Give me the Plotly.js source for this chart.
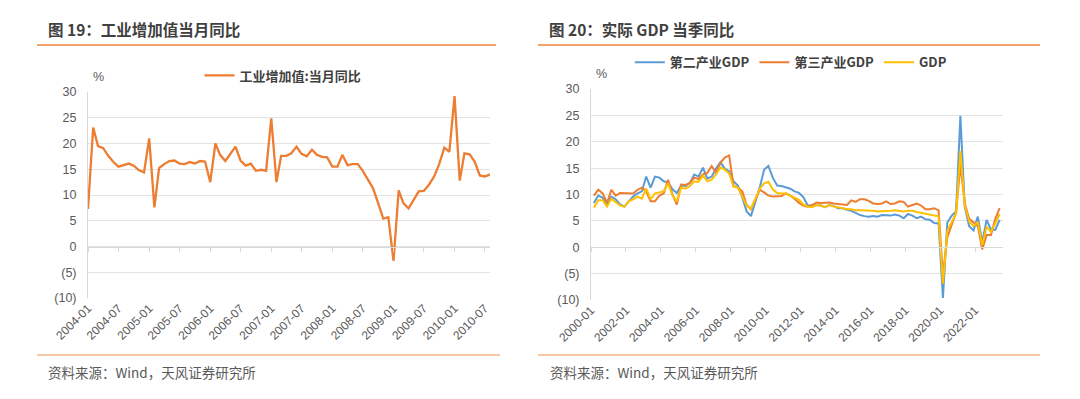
<!DOCTYPE html>
<html>
<head>
<meta charset="utf-8">
<script src="https://cdn.plot.ly/plotly-3.0.1.min.js"></script>
<style>
  html, body { margin:0; padding:0; background:#fff; }
  body { width:1080px; height:399px; position:relative; overflow:hidden;
         font-family:"Liberation Sans","Noto Sans CJK SC",sans-serif; }
  .ttl { position:absolute; font-size:15.5px; font-weight:bold; color:#404040; line-height:20px; white-space:nowrap;
         font-family:"Noto Sans CJK SC","Liberation Sans",sans-serif; }
  .src { position:absolute; font-size:13.5px; color:#595959; line-height:18px; white-space:nowrap;
         font-family:"Noto Sans CJK SC","Liberation Sans",sans-serif; }
  .hl { position:absolute; height:1.5px; background:#F2A36E; }
  .fl { position:absolute; height:2px; background:#F8C9A8; }
  .chart { position:absolute; top:0; width:540px; height:399px; }
</style>
</head>
<body>
<div class="ttl" style="left:48px;top:19px;">图 19：工业增加值当月同比</div>
<div class="ttl" style="left:549px;top:19px;">图 20：实际 GDP 当季同比</div>
<div class="hl" style="left:37px;top:44px;width:459px;"></div>
<div class="hl" style="left:538px;top:44px;width:502px;"></div>
<div id="c1" class="chart" style="left:0;"></div>
<div id="c2" class="chart" style="left:540px;"></div>
<div class="fl" style="left:37px;top:354px;width:463px;"></div>
<div class="fl" style="left:538px;top:354px;width:502px;"></div>
<div class="src" style="left:48px;top:363px;">资料来源：Wind，天风证券研究所</div>
<div class="src" style="left:550px;top:363px;">资料来源：Wind，天风证券研究所</div>
<script>
// ---------- Data: Figure 19 (monthly, 2004-01 .. 2010-08) ----------
const ivaStart = [2004, 1];
const ivaName = '工业增加值:当月同比';
const ivaValues = [
  7.3, 23.1, 19.5, 19.1, 17.6, 16.4, 15.5, 15.8, 16.1, 15.7, 14.8, 14.4,
  21.0, 7.6, 15.2, 16.0, 16.6, 16.7, 16.1, 16.0, 16.4, 16.1, 16.6, 16.5,
  12.5, 20.0, 17.8, 16.6, 18.0, 19.4, 16.7, 15.7, 16.1, 14.7, 14.9, 14.7,
  24.9, 12.5, 17.6, 17.6, 18.1, 19.4, 18.0, 17.5, 18.8, 17.8, 17.4, 17.3,
  15.5, 15.5, 17.8, 15.8, 16.0, 16.0, 14.7, 13.1, 11.3, 8.4, 5.4, 5.7,
  -2.8, 10.9, 8.4, 7.4, 8.9, 10.7, 10.8, 12.0, 13.6, 16.0, 19.2, 18.4,
  29.2, 12.8, 18.1, 17.9, 16.5, 13.8, 13.6, 14.0
];

// ---------- Data: Figure 20 (quarterly, 2000Q1 .. 2023Q2) ----------
const gdpStartYear = 2000;
const seriesNames = ['第二产业GDP', '第三产业GDP', 'GDP'];
const secondary = [
  8.4, 9.8, 9.4, 8.1, 9.6, 9.1, 8.1, 7.7, 8.7, 9.6, 10.2, 10.6,
  13.4, 11.3, 13.4, 13.2, 12.5, 12.3, 11.0, 10.3, 11.7, 11.6, 12.2, 13.8,
  13.4, 15.1, 13.0, 13.4, 14.9, 16.1, 14.9, 14.4, 12.5, 11.7, 9.4, 6.8,
  5.9, 8.7, 11.3, 14.7, 15.4, 13.2, 11.7, 11.6, 11.4, 11.1, 10.6, 10.3,
  9.5, 7.9, 7.9, 8.0, 7.9, 7.6, 8.0, 7.8, 7.4, 7.4, 7.1, 6.9,
  6.5, 6.1, 5.9, 5.8, 5.9, 5.8, 6.1, 6.0, 6.0, 6.2, 6.0, 5.5,
  6.3, 6.0, 5.5, 5.8, 5.3, 5.2, 4.6, 4.5, -9.6, 4.7, 6.0, 6.8,
  24.9, 7.6, 4.0, 3.2, 5.8, 0.9, 5.2, 3.4, 3.3, 5.2
];
const tertiary = [
  9.8, 10.9, 10.2, 8.4, 10.9, 9.8, 10.3, 10.3, 10.2, 10.2, 10.9, 11.3,
  10.6, 8.7, 8.7, 9.8, 10.2, 12.8, 10.0, 8.1, 11.9, 11.8, 12.2, 13.2,
  12.9, 13.8, 14.1, 15.4, 14.1, 16.0, 17.0, 17.4, 11.6, 11.3, 10.6, 8.0,
  7.2, 8.9, 10.9, 10.4, 9.8, 9.6, 9.6, 9.7, 10.2, 9.8, 9.2, 8.4,
  7.9, 7.7, 8.0, 8.5, 8.4, 8.4, 8.5, 8.3, 8.2, 8.2, 8.0, 8.9,
  8.6, 9.1, 9.1, 8.8, 8.3, 8.2, 8.3, 8.7, 8.2, 8.3, 8.7, 8.6,
  7.7, 8.0, 8.3, 7.9, 7.2, 7.2, 7.4, 7.0, -5.2, 1.9, 4.3, 6.6,
  15.6, 8.3, 5.4, 4.6, 4.0, -0.4, 2.3, 2.3, 5.4, 7.4
];
const gdp = [
  7.5, 8.9, 8.9, 7.7, 9.2, 8.6, 7.9, 7.7, 8.7, 9.1, 9.6, 9.2,
  11.1, 9.1, 10.2, 10.4, 10.6, 12.1, 9.8, 8.7, 11.3, 11.1, 11.6, 12.5,
  12.4, 13.6, 12.5, 12.8, 13.8, 15.1, 14.7, 14.0, 11.5, 11.3, 9.6, 7.9,
  7.3, 9.1, 11.1, 12.1, 12.4, 11.0, 10.3, 10.2, 10.2, 9.8, 9.4, 9.0,
  8.1, 7.7, 7.6, 8.0, 7.9, 7.6, 8.0, 7.7, 7.6, 7.4, 7.2, 7.2,
  7.0, 7.0, 7.0, 6.9, 6.9, 6.8, 6.8, 6.9, 6.9, 7.0, 6.9, 6.8,
  6.9, 6.9, 6.7, 6.5, 6.3, 6.2, 6.0, 5.9, -6.9, 3.1, 4.8, 6.4,
  18.3, 7.9, 4.9, 4.0, 4.8, 0.4, 3.9, 2.9, 4.5, 6.3
];

const yTickVals = [-10, -5, 0, 5, 10, 15, 20, 25, 30];
const yTickText = ['(10)', '(5)', '0', '5', '10', '15', '20', '25', '30'];

// ---------- dates ----------
function pad(n){ return (n < 10 ? '0' : '') + n; }
const ivaDates = ivaValues.map((_, i) => {
  const m = ivaStart[1] - 1 + i;
  return (ivaStart[0] + Math.floor(m / 12)) + '-' + pad(m % 12 + 1) + '-01';
});
const qDates = gdp.map((_, i) => {
  const y = gdpStartYear + Math.floor(i / 4);
  return y + '-' + pad((i % 4) * 3 + 3) + '-01';
});

const FONT = '"Liberation Sans","Noto Sans CJK SC",Arial,sans-serif';
const LEGFONT = '"Noto Sans CJK SC","Liberation Sans",sans-serif';
const GRID = '#E3E3E3';
const AXIS = '#D9D9D9';
const TXT = '#595959';

function yAxis() {
  return {
    range: [-10, 30], tickvals: yTickVals, ticktext: yTickText,
    showgrid: true, gridcolor: GRID, gridwidth: 1,
    showline: true, linecolor: AXIS, linewidth: 1,
    zeroline: false, ticks: '', ticklabelstandoff: 8,
    tickfont: { family: FONT, size: 12.5, color: TXT }, fixedrange: true
  };
}
function xAxes(range, dtick) {
  const base = {
    type: 'date', range: range, tick0: range[0], dtick: dtick, tickformat: '%Y-%m'
  };
  return [
    Object.assign({}, base, {
      showgrid: false, zeroline: false, showline: false, ticks: '',
      tickangle: -45, tickfont: { family: FONT, size: 12, color: TXT }
    }),
    Object.assign({}, base, {
      overlaying: 'x', anchor: 'free', position: 0.25, side: 'bottom',
      showgrid: false, zeroline: false, showline: true, linecolor: AXIS, linewidth: 1,
      ticks: 'outside', ticklen: 4, tickcolor: AXIS, tickwidth: 1, showticklabels: false
    })
  ];
}

// ---------- Chart 1 ----------
(function(){
  const xs = xAxes(['2004-01-01', '2010-08-01'], 'M6');
  const data = [
    { x: ivaDates, y: ivaValues, type: 'scatter', mode: 'lines', name: ivaName,
      line: { color: '#ED7D31', width: 2.3 }, hoverinfo: 'skip' },
    { x: [], y: [], xaxis: 'x2', type: 'scatter', mode: 'lines', showlegend: false, hoverinfo: 'skip' }
  ];
  const layout = {
    width: 540, height: 399,
    margin: { l: 88, r: 50, t: 92, b: 101, pad: 0 },
    paper_bgcolor: 'rgba(0,0,0,0)', plot_bgcolor: 'rgba(0,0,0,0)',
    showlegend: true,
    legend: { orientation: 'h', x: 0.485, xanchor: 'center', y: 1.08, yanchor: 'middle',
              font: { family: LEGFONT, size: 13, color: '#404040', weight: 'bold' },
              itemwidth: 30, bgcolor: 'rgba(0,0,0,0)' },
    xaxis: xs[0], xaxis2: xs[1], yaxis: yAxis(),
    annotations: [{ text: '%', xref: 'paper', yref: 'paper', x: 0, y: 1, xanchor: 'left', yanchor: 'bottom',
                    xshift: 3, yshift: 6, showarrow: false, font: { family: FONT, size: 12.5, color: TXT } }]
  };
  Plotly.newPlot('c1', data, layout, { staticPlot: true, displayModeBar: false });
})();

// ---------- Chart 2 ----------
(function(){
  const xs = xAxes(['2000-01-01', '2023-08-10'], 'M24');
  const colors = ['#5B9BD5', '#ED7D31', '#FFC000'];
  const vals = [secondary, tertiary, gdp];
  const data = vals.map((v, k) => ({
    x: qDates, y: v, type: 'scatter', mode: 'lines', name: seriesNames[k],
    line: { color: colors[k], width: 2 }, hoverinfo: 'skip'
  }));
  data.push({ x: [], y: [], xaxis: 'x2', type: 'scatter', mode: 'lines', showlegend: false, hoverinfo: 'skip' });
  const layout = {
    width: 540, height: 399,
    margin: { l: 51, r: 77, t: 89, b: 99, pad: 0 },
    paper_bgcolor: 'rgba(0,0,0,0)', plot_bgcolor: 'rgba(0,0,0,0)',
    showlegend: true,
    legend: { orientation: 'h', x: 0.485, xanchor: 'center', y: 1.126, yanchor: 'middle',
              font: { family: LEGFONT, size: 13, color: '#404040', weight: 'bold' },
              itemwidth: 30, bgcolor: 'rgba(0,0,0,0)', traceorder: 'normal' },
    xaxis: xs[0], xaxis2: xs[1], yaxis: yAxis(),
    annotations: [{ text: '%', xref: 'paper', yref: 'paper', x: 0, y: 1, xanchor: 'left', yanchor: 'bottom',
                    xshift: 3, yshift: 6, showarrow: false, font: { family: FONT, size: 12.5, color: TXT } }]
  };
  Plotly.newPlot('c2', data, layout, { staticPlot: true, displayModeBar: false });
})();
</script>
</body>
</html>
